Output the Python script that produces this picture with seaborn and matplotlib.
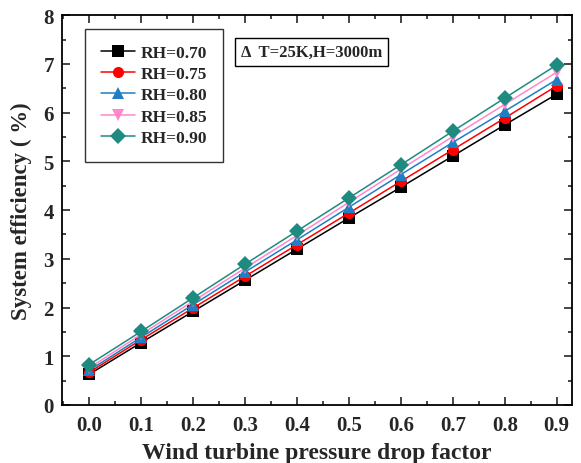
import matplotlib
matplotlib.use("Agg")
import matplotlib.pyplot as plt
import seaborn as sns
import pandas as pd
from matplotlib.ticker import MultipleLocator

factor = [0.0, 0.1, 0.2, 0.3, 0.4, 0.5, 0.6, 0.7, 0.8, 0.9]
rh_070 = [0.63, 1.28, 1.92, 2.56, 3.20, 3.84, 4.47, 5.11, 5.75, 6.38]
rh_075 = [0.67, 1.34, 1.99, 2.64, 3.29, 3.94, 4.59, 5.24, 5.89, 6.55]
rh_080 = [0.71, 1.39, 2.06, 2.73, 3.39, 4.06, 4.73, 5.39, 6.03, 6.68]
rh_085 = [0.76, 1.45, 2.13, 2.81, 3.48, 4.16, 4.84, 5.51, 6.17, 6.83]
rh_090 = [0.83, 1.51, 2.20, 2.89, 3.57, 4.25, 4.93, 5.62, 6.30, 6.98]

labels = ["RH=0.70", "RH=0.75", "RH=0.80", "RH=0.85", "RH=0.90"]
colors = ["#000000", "#ff0000", "#1f7fc4", "#ff88cc", "#1f8a80"]
markers = ["s", "o", "^", "v", "D"]

rows = []
for lab, vals in zip(labels, [rh_070, rh_075, rh_080, rh_085, rh_090]):
    for x, y in zip(factor, vals):
        rows.append({"factor": x, "eff": y, "RH": lab})
df = pd.DataFrame(rows)

sns.set_theme(style="ticks")
plt.rcParams["font.family"] = ["Liberation Serif", "DejaVu Serif"]
plt.rcParams["font.weight"] = "bold"

fig, ax = plt.subplots(figsize=(5.81, 4.64), dpi=100)
sns.lineplot(
    data=df, x="factor", y="eff", hue="RH", style="RH",
    palette=colors, markers=markers, dashes=False,
    markersize=8, markeredgewidth=0, linewidth=1.1, ax=ax,
)

ax.set_xlim(-0.052, 0.93)
ax.set_ylim(0, 8)
ax.xaxis.set_major_locator(MultipleLocator(0.1))
ax.xaxis.set_minor_locator(MultipleLocator(0.05))
ax.yaxis.set_major_locator(MultipleLocator(1))
ax.yaxis.set_minor_locator(MultipleLocator(0.5))
ax.set_xticks(factor)
ax.set_xticklabels([f"{v:.1f}" for v in factor])
ax.tick_params(which="both", direction="in", top=True, right=True, width=1.2,
               labelsize=15)
ax.tick_params(which="major", length=6)
ax.tick_params(which="minor", length=3)
ax.tick_params(axis="x", pad=7)
ax.tick_params(axis="y", pad=6)
for s in ax.spines.values():
    s.set_linewidth(1.3)
    s.set_color("black")
for t in ax.get_xticklabels() + ax.get_yticklabels():
    t.set_fontweight("bold")

ax.set_xlabel("Wind turbine pressure drop factor", fontsize=17, fontweight="bold",
              labelpad=5)
ax.set_ylabel("System efficiency ( %)", fontsize=16.5, fontweight="bold",
              labelpad=8)

leg = ax.legend(loc="upper left", bbox_to_anchor=(0.045, 0.965), frameon=True,
                fancybox=False, edgecolor="black", fontsize=12.5,
                handlelength=2.0, handletextpad=0.3, borderpad=0.9,
                labelspacing=0.3, borderaxespad=0)
leg.get_frame().set_linewidth(1.0)
for t in leg.get_texts():
    t.set_fontweight("bold")

ax.text(0.35, 0.905, "\u0394  T=25K,H=3000m", transform=ax.transAxes,
        fontsize=12, fontweight="bold", va="center", ha="left",
        family=["Liberation Serif", "DejaVu Serif"],
        bbox=dict(boxstyle="square,pad=0.35", fc="white", ec="black", lw=1.0))

fig.subplots_adjust(left=0.107, right=0.985, top=0.965, bottom=0.125)
fig.savefig("out.png", dpi=100)
